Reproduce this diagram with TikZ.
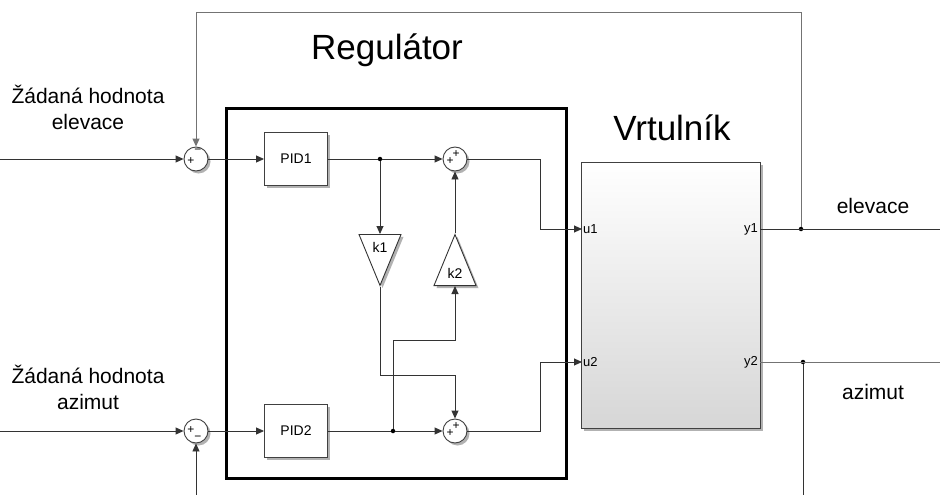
\documentclass[tikz,border=0pt]{standalone}
\usepackage{fontspec}
\setmainfont{Liberation Sans}
\usetikzlibrary{arrows.meta,shapes.geometric,shadows}

\tikzset{
  sig/.style={draw=black!80, line width=0.9pt},
  sigarr/.style={sig, -{Triangle[length=8pt,width=7pt]}},
  fbk/.style={draw=black!55, line width=0.9pt},
  shd/.style={drop shadow={shadow xshift=2.5pt, shadow yshift=-2.5pt, fill=black!60, opacity=0.5}},
  blk/.style={draw=black!75, line width=0.9pt, fill=white, shd,
    minimum width=63pt, minimum height=53pt, font=\fontsize{14}{16}\selectfont},
  sumnode/.style={circle, draw=black!75, line width=0.9pt, fill=white, shd,
    minimum size=24pt, inner sep=0pt},
  sgn/.style={inner sep=0pt, font=\fontsize{12}{12}\selectfont},
  gain/.style={isosceles triangle, isosceles triangle stretches, draw=black!80,
    line width=0.9pt, fill=white, shd, inner sep=0pt, minimum width=42pt, minimum height=51pt},
  gaintxt/.style={inner sep=0pt, font=\fontsize{14}{16}\selectfont},
  port/.style={inner sep=1pt, font=\fontsize{13}{15}\selectfont},
  junc/.style={circle, fill=black, inner sep=0pt, minimum size=4.5pt},
  bigtxt/.style={font=\fontsize{35}{40}\selectfont},
  lbl/.style={font=\fontsize{21}{26}\selectfont, align=center},
}

\begin{document}
\begin{tikzpicture}[x=1pt, y=-1pt]
  \useasboundingbox (0,0) rectangle (940,495);

  % regulator frame and titles
  \node[draw=black, line width=3pt, minimum width=340pt, minimum height=370pt] (reg) at (396,293) {};
  \node[bigtxt] (regtit) at (387,50) {Regulátor};
  \node[bigtxt] (helitit) at (672,128) {Vrtulník};

  % set point labels
  \node[lbl] (refE) at (88,107) {Žádaná hodnota\\elevace};
  \node[lbl] (refA) at (88,387) {Žádaná hodnota\\azimut};

  % summing junctions
  \node[sumnode] (sumE) at (196,159) {};
  \node[sgn] (sumEp) at (191,161) {+};
  \node[sgn] (sumEm) at (198,151) {−};
  \node[sumnode] (sumA) at (196,431) {};
  \node[sgn] (sumAp) at (191,430) {+};
  \node[sgn] (sumAm) at (198,438) {−};
  \node[sumnode] (sumU1) at (455,159) {};
  \node[sgn] (sumU1a) at (450,161) {+};
  \node[sgn] (sumU1b) at (456,154) {+};
  \node[sumnode] (sumU2) at (455,431) {};
  \node[sgn] (sumU2a) at (450,433) {+};
  \node[sgn] (sumU2b) at (456,426) {+};

  % controllers and cross gains
  \node[blk] (pid1) at (296,159) {PID1};
  \node[blk] (pid2) at (296,431) {PID2};
  \node[gain, shape border rotate=270, anchor=lower side] (k1) at (380,234) {};
  \node[gaintxt] (k1t) at (380,247) {k1};
  \node[gain, shape border rotate=90, anchor=lower side] (k2) at (455,286) {};
  \node[gaintxt] (k2t) at (455,273) {k2};

  % helicopter model
  \node[draw=black!75, line width=0.9pt, top color=white, bottom color=black!16, shd,
    minimum width=179pt, minimum height=266pt] (heli) at (670.5,295) {};
  \node[port, anchor=west] (u1) at (582,229) {u1};
  \node[port, anchor=west] (u2) at (582,362) {u2};
  \node[port, anchor=east] (y1) at (759,229) {y1};
  \node[port, anchor=east] (y2) at (759,362) {y2};
  \node[lbl] (outEt) at (873,206) {elevace};
  \node[lbl] (outAt) at (873,392) {azimut};

  % branch points
  \node[junc] (j1) at (380,159) {};
  \node[junc] (j2) at (393,431) {};
  \node[junc] (jE) at (801,229) {};
  \node[junc] (jA) at (803,362) {};

  \coordinate (inE) at (0,159);
  \coordinate (inA) at (0,431);
  \coordinate (topL) at (196,12);
  \coordinate (topR) at (801,12);
  \coordinate (botL) at (196,495);
  \coordinate (botR) at (803,495);
  \coordinate (k1turn) at (455,375);
  \coordinate (k2turn) at (393,340);
  \coordinate (c1) at (540,229);
  \coordinate (c2) at (540,362);
  \coordinate (outE) at (940,229);
  \coordinate (outA) at (940,362);

  % elevation channel
  \draw[sigarr] (inE) -- (sumE);
  \draw[sigarr] (sumE) -- (pid1);
  \draw[sig] (pid1) -- (j1);
  \draw[sigarr] (j1) -- (sumU1);
  \draw[sigarr] (j1) -- (k1.lower side);
  \draw[sigarr] (k1.apex) |- (k1turn) -- (sumU2);
  \draw[sigarr] (sumU1) -| (c1) -- (u1.west);

  % azimuth channel
  \draw[sigarr] (inA) -- (sumA);
  \draw[sigarr] (sumA) -- (pid2);
  \draw[sig] (pid2) -- (j2);
  \draw[sigarr] (j2) -- (sumU2);
  \draw[sigarr] (j2) -- (k2turn) -| (k2.lower side);
  \draw[sigarr] (k2.apex) -- (sumU1);
  \draw[sigarr] (sumU2) -| (c2) -- (u2.west);

  % outputs and feedback
  \draw[sig] (heli.east |- y1) -- (outE);
  \draw[fbk] (heli.east |- y2) -- (outA);
  \draw[fbk, -{Triangle[length=8pt,width=7pt]}] (jE) -- (topR) -- (topL) -- (sumE);
  \draw[sig] (jA) -- (botR);
  \draw[sigarr] (botL) -- (sumA);
\end{tikzpicture}
\end{document}
